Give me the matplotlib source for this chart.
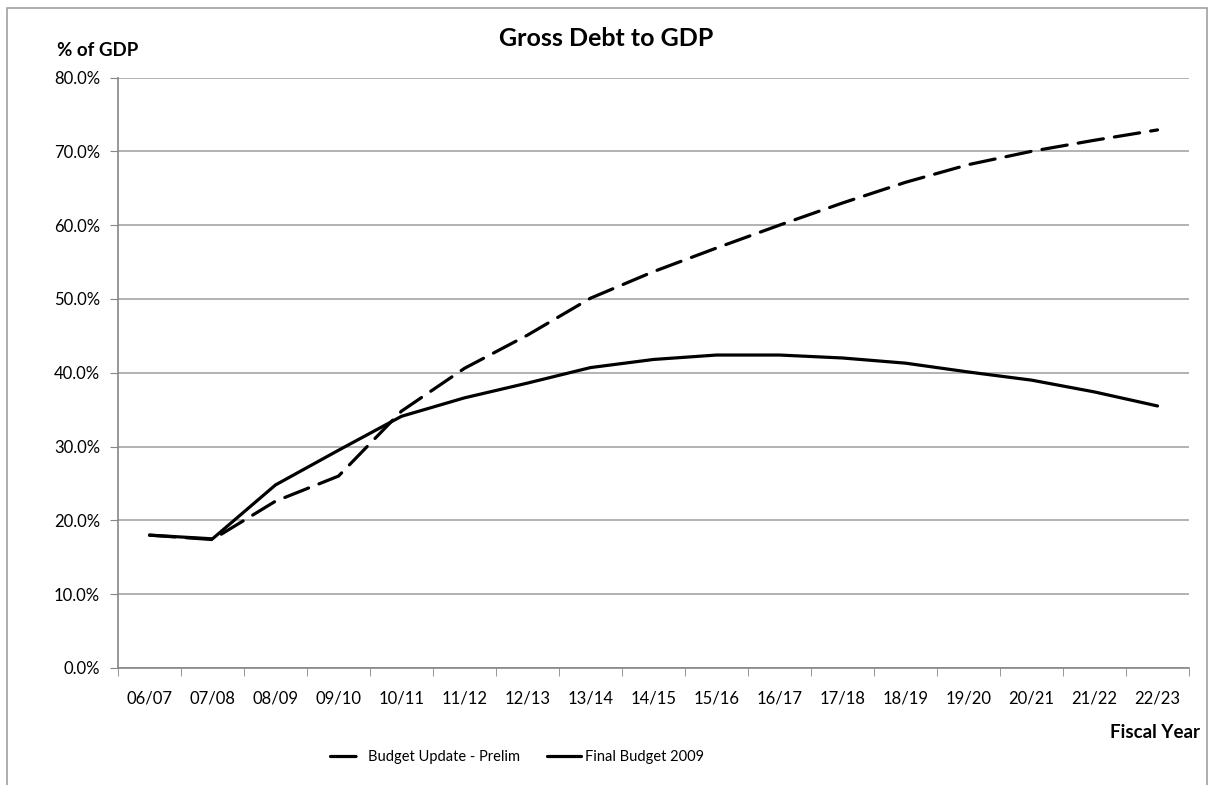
import matplotlib.pyplot as plt
from matplotlib.patches import Rectangle
from matplotlib.ticker import FuncFormatter, FixedLocator

plt.rcParams['font.family'] = ['Lato', 'DejaVu Sans']

years = ["06/07", "07/08", "08/09", "09/10", "10/11", "11/12", "12/13", "13/14",
         "14/15", "15/16", "16/17", "17/18", "18/19", "19/20", "20/21", "21/22", "22/23"]
budget_update = [18.0, 17.4, 22.6, 26.0, 34.8, 40.6, 45.1, 50.1, 53.7, 56.9,
                 60.0, 63.0, 65.8, 68.2, 70.0, 71.5, 72.9]
final_budget = [18.0, 17.5, 24.8, 29.5, 34.1, 36.6, 38.6, 40.7, 41.8, 42.4,
                42.4, 42.0, 41.3, 40.1, 39.0, 37.4, 35.5]

fig = plt.figure(figsize=(12.09, 7.85), dpi=100)
ax = fig.add_axes([118 / 1209, 117 / 785, 1071 / 1209, 590.5 / 785])

# chart area border
fig.patches.append(Rectangle((7 / 1209, -0.01), 1200 / 1209, 1 - 8 / 785 + 0.01,
                             transform=fig.transFigure, fill=False,
                             edgecolor="#a0a0a0", linewidth=1.2))

x = list(range(len(years)))
ax.plot(x, budget_update, color="black", linewidth=2.3, dashes=(8, 3.5),
        label="Budget Update - Prelim", solid_capstyle="round", dash_capstyle="round")
ax.plot(x, final_budget, color="black", linewidth=2.3,
        label="Final Budget 2009", solid_capstyle="round")

ax.set_xlim(-0.5, len(years) - 0.5)
ax.set_ylim(0, 80)
ax.set_yticks(range(0, 81, 10))
ax.yaxis.set_major_formatter(FuncFormatter(lambda v, p: f"{v:.1f}%"))
ax.set_xticks(x)
ax.set_xticklabels(years)
ax.xaxis.set_minor_locator(FixedLocator([i - 0.5 for i in range(len(years) + 1)]))
ax.tick_params(axis="x", which="major", length=0, pad=16, labelsize=12)
ax.tick_params(axis="x", which="minor", length=6, color="#868686")
ax.tick_params(axis="y", length=6, color="#868686", labelsize=12, pad=7)

ax.grid(axis="y", color="#a6a6a6", linewidth=1.2)
ax.set_axisbelow(True)
for s in ["top", "right"]:
    ax.spines[s].set_visible(False)
for s in ["left", "bottom"]:
    ax.spines[s].set_color("#868686")
    ax.spines[s].set_linewidth(1.2)

fig.text(606 / 1209, 1 - 38 / 785, "Gross Debt to GDP", ha="center", va="center",
         fontsize=18, fontweight="bold")
fig.text(57 / 1209, 1 - 51 / 785, "% of GDP", ha="left", va="center",
         fontsize=13.5, fontweight="bold")
fig.text(1200 / 1209, 1 - 733 / 785, "Fiscal Year", ha="right", va="center",
         fontsize=13.5, fontweight="bold")

fig.legend(loc="center", bbox_to_anchor=(517 / 1209, 1 - 757 / 785), ncol=2,
           frameon=False, fontsize=10.5, handlelength=2.3, columnspacing=1.9,
           handletextpad=0.3)

fig.savefig("out.png", dpi=100)
